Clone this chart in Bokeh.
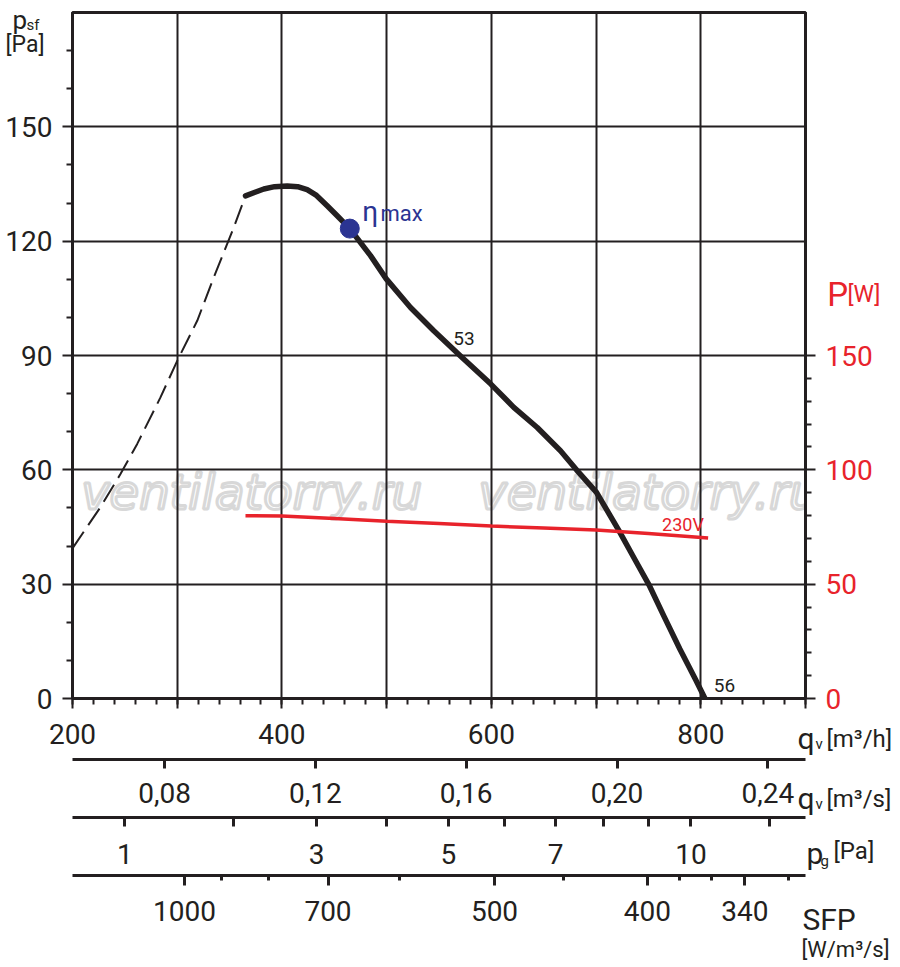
from bokeh.plotting import figure
from bokeh.models import Range1d, LinearAxis, FixedTicker, Label
from bokeh.layouts import column
from bokeh.embed import file_html
from bokeh.resources import INLINE

INK = "#231f20"
RED = "#e8232b"
BLUE = "#2b3492"
FONT = "Roboto"

# ---------------- data ----------------
stall_q = [200, 226.7, 245.8, 261.8, 284.0, 300.0, 319.1, 334.9, 354.0, 365.2]
stall_p = [39.4, 50.2, 58.9, 66.8, 79.0, 88.6, 99.1, 110.5, 123.6, 131.9]

curve_q = [365.2, 382.7, 393.0, 405.0, 415.0, 424.1, 433.0, 443.2, 453.0, 464.8,
           484.6, 499.6, 522.8, 545.0, 570.5, 599.5, 621.4, 643.8, 666.0, 681.3,
           700.4, 721.7, 736.0, 750.4, 765.0, 780.0, 795.0, 804.0]
curve_p = [131.9, 133.7, 134.3, 134.5, 134.3, 133.5, 132.0, 129.3, 126.6, 123.3,
           116.2, 110.1, 102.6, 96.5, 89.9, 82.5, 76.4, 71.1, 65.0, 60.0,
           54.1, 44.1, 37.0, 29.9, 21.5, 13.0, 5.0, 0.0]

power_q = [365.2, 400, 450, 500, 550, 600, 650, 700, 750, 807]
power_w = [79.9, 79.8, 78.7, 77.5, 76.5, 75.4, 74.6, 73.7, 72.2, 70.2]

eta_q = [464.8]
eta_p = [123.3]

qh_ticks = [200, 300, 400, 500, 600, 700, 800, 900]
qh_labels = ["200", "", "400", "", "600", "", "800", ""]
qh_minor = list(range(200, 901, 20))
psf_ticks = [0, 30, 60, 90, 120, 150]
psf_minor = [10, 20, 40, 50, 70, 80, 100, 110, 130, 140, 160, 170]
pw_ticks = [0, 50, 100, 150]
pw_minor = [10, 20, 30, 40, 60, 70, 80, 90, 110, 120, 130, 140]

qs_values = [0.08, 0.12, 0.16, 0.20, 0.24]
qs_labels = ["0,08", "0,12", "0,16", "0,20", "0,24"]
pg_labeled = [1, 3, 5, 7, 10]
pg_unlabeled = [2, 4, 6, 8, 9, 12]
pg_q_at_1pa = 250.0
sfp_major = [1000, 700, 500, 400, 340]
sfp_major_q = [307, 444, 603, 749, 842]
sfp_minor = [900, 800, 600, 450, 380, 360, 320]
sfp_minor_q = [342, 387, 512, 669, 780, 810, 884]

X0, X1, Y0, Y1 = 200, 900, 0, 180
W, H = 896, 962
FL, FT, FR, FB = 72, 12, 805, 698
ky = (Y1 - Y0) / (FB - FT)   # data units per pixel (vertical)
kx = (X1 - X0) / (FR - FL)

p = figure(width=W, height=H, x_range=Range1d(X0, X1), y_range=Range1d(Y0, Y1),
           output_backend="svg", toolbar_location=None,
           min_border_left=FL, min_border_right=W - FR, min_border_top=FT, min_border_bottom=H - FB)
p.frame_align = False
p.extra_y_ranges = {"P": Range1d(0, 300)}
p.outline_line_color = INK
p.outline_line_width = 3
p.background_fill_color = "white"
p.border_fill_color = "white"


def style_axis(ax, size="28px", color=INK, tick_w=2, line_w=3):
    ax.axis_line_color = INK
    ax.axis_line_width = line_w
    ax.major_tick_line_color = INK
    ax.major_tick_line_width = tick_w
    ax.minor_tick_line_color = INK
    ax.minor_tick_line_width = tick_w
    ax.major_tick_in = 0
    ax.minor_tick_in = 0
    ax.major_label_text_font = FONT
    ax.major_label_text_font_size = size
    ax.major_label_text_color = color


def pad_axis(ax, standoff):
    ax.axis_label = "\u00a0"
    ax.axis_label_text_font_size = "4px"
    ax.axis_label_standoff = standoff


xt = FixedTicker(ticks=qh_ticks, minor_ticks=qh_minor)
xa = p.xaxis[0]
xa.ticker = xt
xa.major_label_overrides = dict(zip(qh_ticks, qh_labels))
style_axis(xa)
xa.major_tick_out = 10
xa.minor_tick_out = 6
xa.major_label_standoff = 15
pad_axis(xa, 5)
p.xgrid.ticker = xt

yt = FixedTicker(ticks=psf_ticks, minor_ticks=psf_minor)
ya = p.yaxis[0]
ya.ticker = yt
style_axis(ya)
ya.major_tick_out = 10
ya.minor_tick_out = 6
ya.major_label_standoff = 10
p.ygrid.ticker = yt

for g in (p.xgrid[0], p.ygrid[0]):
    g.grid_line_color = INK
    g.grid_line_width = 2
    g.grid_line_alpha = 1.0

ra = LinearAxis(y_range_name="P", ticker=FixedTicker(ticks=pw_ticks, minor_ticks=pw_minor))
style_axis(ra, color=RED)
ra.major_tick_out = 10
ra.minor_tick_out = 6
ra.major_label_standoff = 10
p.add_layout(ra, "right")

qs_pos = [v * 3600 for v in qs_values]
a2 = LinearAxis(ticker=FixedTicker(ticks=qs_pos),
                major_label_overrides=dict(zip(qs_pos, qs_labels)))
style_axis(a2, tick_w=3)
a2.major_tick_out = 9
a2.major_label_standoff = 14
pad_axis(a2, 4)
p.add_layout(a2, "below")

pg_pos = [pg_q_at_1pa * v ** 0.5 for v in pg_labeled]
pg_minor_pos = [pg_q_at_1pa * v ** 0.5 for v in pg_unlabeled]
a3 = LinearAxis(ticker=FixedTicker(ticks=pg_pos, minor_ticks=pg_minor_pos),
                major_label_overrides=dict(zip(pg_pos, [str(v) for v in pg_labeled])))
style_axis(a3, tick_w=3)
a3.major_tick_out = 9
a3.minor_tick_out = 9
a3.major_label_standoff = 17
pad_axis(a3, 1)
p.add_layout(a3, "below")

a4 = LinearAxis(ticker=FixedTicker(ticks=sfp_major_q, minor_ticks=sfp_minor_q),
                major_label_overrides=dict(zip(sfp_major_q, [str(v) for v in sfp_major])))
style_axis(a4, tick_w=3)
a4.major_tick_out = 10
a4.minor_tick_out = 5
a4.major_label_standoff = 15
p.add_layout(a4, "below")


def txt(fig, x, y, text, size, color=INK, font=FONT, **kw):
    # y is the intended alphabetic baseline; lift by ~0.22 em to compensate
    y_adj = y + 0.22 * size * ky
    fig.add_layout(Label(x=x, y=y_adj, text=text, text_font=font, text_font_size=f"{size}px",
                         text_color=color, text_align="left", text_baseline="alphabetic", **kw))


# watermark
for wx in (208.3, 587.7):
    txt(p, wx, 51.5, "ventilatorry.ru", 48, "white", font="DejaVu Sans",
        text_font_style="italic", text_outline_color="#d8d8d8", level="image")

p.line(stall_q, stall_p, line_color=INK, line_width=2, line_dash="20 8")
p.line(curve_q, curve_p, line_color=INK, line_width=5.5, line_join="round", line_cap="round")
p.line(power_q, power_w, y_range_name="P", line_color=RED, line_width=3.5)
p.scatter(eta_q, eta_p, size=19, fill_color=BLUE, line_color=BLUE)

txt(p, 476.6, 126.1, "η", 28, BLUE)
txt(p, 494.1, 126.1, "max", 22, BLUE)
txt(p, 563.6, 93.4, "53", 19)
txt(p, 812.4, 2.3, "56", 19)
txt(p, 763.0, 44.6, "230V", 18, RED)

# ---------- transparent overlay for texts outside the plot frame ----------
ov = figure(width=W, height=H, output_backend="svg", toolbar_location=None,
            x_range=Range1d(X0 - FL * kx, X0 + (W - FL) * kx),
            y_range=Range1d(Y0 - (H - FB) * ky, Y0 + FB * ky),
            x_axis_type=None, y_axis_type=None,
            min_border=0, min_border_left=0, min_border_right=0,
            min_border_top=0, min_border_bottom=0,
            outline_line_color=None, background_fill_alpha=0, border_fill_alpha=0)
ov.frame_align = False
ov.margin = (-H, 0, 0, 0)

for x, y, t, s, c in [
    (142.7, 176.6, "p", 26, INK), (156.0, 175.8, "sf", 15, INK),
    (136.0, 170.3, "[Pa]", 23, INK),
    (920.7, 104.0, "P", 33, RED), (940.1, 104.8, "[W]", 23, RED),
    (892.4, -12.3, "q", 30, INK), (909.6, -12.9, "v", 15, INK),
    (920.0, -12.1, "[m³/h]", 24, INK),
    (892.4, -28.1, "q", 30, INK), (909.6, -28.6, "v", 15, INK),
    (920.0, -27.8, "[m³/s]", 24, INK),
    (901.0, -42.5, "p", 30, INK), (914.3, -43.6, "g", 15, INK),
    (926.7, -41.5, "[Pa]", 24, INK),
    (897.1, -59.6, "SFP", 30, INK), (896.1, -67.2, "[W/m³/s]", 22, INK)]:
    txt(ov, x, y, t, s, c)

layout = column(p, ov, spacing=0)
open("out.html", "w").write(file_html(layout, INLINE))
